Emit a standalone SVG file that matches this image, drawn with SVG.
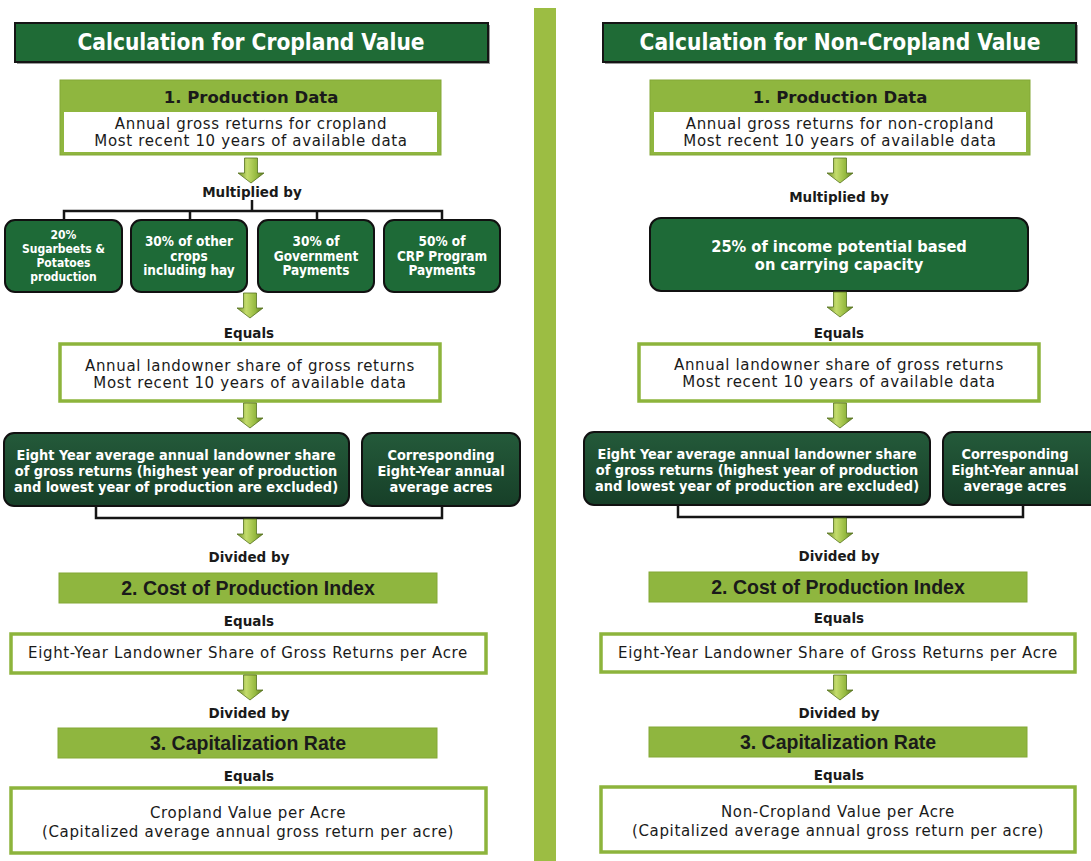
<svg xmlns="http://www.w3.org/2000/svg" width="1091" height="861" viewBox="0 0 1091 861">
<defs>
<linearGradient id="ag" x1="0" y1="0" x2="1" y2="0">
<stop offset="0" stop-color="#6c8c28"/>
<stop offset="0.35" stop-color="#c4dc6c"/>
<stop offset="0.7" stop-color="#96ba40"/>
<stop offset="1" stop-color="#5c7c20"/>
</linearGradient>
<linearGradient id="dg" x1="0" y1="0" x2="0" y2="1">
<stop offset="0" stop-color="#245a3a"/>
<stop offset="1" stop-color="#173f28"/>
</linearGradient>
<path id="arr" d="M-6.5,0 H6.5 V15 H13 L0,25 L-13,15 H-6.5 Z"/>
</defs>
<style>
.hdr{fill:#1f6b36;stroke:#151515;stroke-width:2}
.hsh{fill:#9a9a9a}
.ht{font-family:"DejaVu Sans Condensed","DejaVu Sans",sans-serif;font-weight:bold;font-size:22.5px;fill:#fff;text-anchor:middle}
.lg{fill:#8fb63f;stroke:#83a836;stroke-width:1}
.lt{font-family:"DejaVu Sans",sans-serif;font-weight:bold;font-size:16.5px;fill:#1a1a1a;text-anchor:middle}
.at{font-family:"Liberation Sans",Arial,sans-serif;font-weight:bold;font-size:19.5px;fill:#1a1a1a;text-anchor:middle}
.wb{fill:#fff;stroke:#8db43c;stroke-width:3.5}
.wi{fill:#fff}
.bt{font-family:"DejaVu Sans",sans-serif;font-size:15px;letter-spacing:0.65px;fill:#1a1a1a;text-anchor:middle}
.lab{font-family:"DejaVu Sans",sans-serif;font-weight:bold;font-size:13.5px;fill:#1a1a1a;text-anchor:middle}
.sb{fill:#1e6a37;stroke:#111;stroke-width:2}
.db{fill:url(#dg);stroke:#111;stroke-width:2}
.wt{font-family:"DejaVu Sans Condensed","DejaVu Sans",sans-serif;font-weight:bold;fill:#fff;text-anchor:middle}
.s11{font-size:12px}
.s12{font-size:13.5px}
.s13{font-size:14.4px}
.s15{font-size:16.3px}
.ln{fill:none;stroke:#151515;stroke-width:2.5}
.ar{fill:url(#ag);stroke:#55721f;stroke-width:0.8}
</style>
<rect width="1091" height="861" fill="#fff"/>
<g id="divider"><rect x="534" y="8" width="22" height="853" fill="#9cbd43"/></g>

<g id="left-header"><rect class="hsh" x="17" y="25" width="473" height="39"/><rect class="hdr" x="15" y="23" width="473" height="39"/><text class="ht" x="251" y="50">Calculation for Cropland Value</text></g>
<g id="left-production"><rect class="lg" x="60" y="80" width="381" height="75"/><text class="lt" x="251" y="103">1.  Production Data</text><rect class="wi" x="64" y="112" width="373" height="40"/><text class="bt" x="251" y="129">Annual gross returns for cropland</text><text class="bt" x="251" y="146">Most recent 10 years of available data</text></g>
<g id="left-mult-label"><text class="lab" x="252" y="197">Multiplied by</text></g>
<g id="left-sugar"><rect class="sb" x="5" y="220" width="117" height="72" rx="10"/><text class="wt s11" x="63.5" y="239">20%</text><text class="wt s11" x="63.5" y="253">Sugarbeets &amp;</text><text class="wt s11" x="63.5" y="267">Potatoes</text><text class="wt s11" x="63.5" y="281">production</text></g>
<g id="left-other"><rect class="sb" x="131" y="220" width="116" height="72" rx="10"/><text class="wt s12" x="189" y="246">30% of other</text><text class="wt s12" x="189" y="261">crops</text><text class="wt s12" x="189" y="275">including hay</text></g>
<g id="left-gov"><rect class="sb" x="258" y="220" width="116" height="72" rx="10"/><text class="wt s12" x="316" y="246">30% of</text><text class="wt s12" x="316" y="261">Government</text><text class="wt s12" x="316" y="275">Payments</text></g>
<g id="left-crp"><rect class="sb" x="384" y="220" width="116" height="72" rx="10"/><text class="wt s12" x="442" y="246">50% of</text><text class="wt s12" x="442" y="261">CRP Program</text><text class="wt s12" x="442" y="275">Payments</text></g>
<g id="left-eq1"><text class="lab" x="249" y="338">Equals</text></g>
<g id="left-share"><rect class="wb" x="60" y="344" width="380" height="57"/><text class="bt" x="250" y="371">Annual landowner share of gross returns</text><text class="bt" x="250" y="388">Most recent 10 years of available data</text></g>
<g id="left-eight"><rect class="db" x="4" y="433" width="345" height="73" rx="10"/><text class="wt s13" x="176" y="460">Eight Year average annual landowner share</text><text class="wt s13" x="176" y="476">of gross returns (highest year of production</text><text class="wt s13" x="176" y="492">and lowest year of production are excluded)</text></g>
<g id="left-acres"><rect class="db" x="362" y="433" width="158" height="73" rx="10"/><text class="wt s13" x="441" y="460">Corresponding</text><text class="wt s13" x="441" y="476">Eight-Year annual</text><text class="wt s13" x="441" y="492">average acres</text></g>
<g id="left-div1"><text class="lab" x="249" y="562">Divided by</text></g>
<g id="left-cost"><rect class="lg" x="59" y="573" width="378" height="30"/><text class="at" x="248" y="595">2.  Cost of Production Index</text></g>
<g id="left-eq2"><text class="lab" x="249" y="626">Equals</text></g>
<g id="left-peracre"><rect class="wb" x="11" y="634" width="475" height="39"/><text class="bt" x="248" y="658">Eight-Year Landowner Share of Gross Returns per Acre</text></g>
<g id="left-div2"><text class="lab" x="249" y="718">Divided by</text></g>
<g id="left-cap"><rect class="lg" x="58" y="728" width="379" height="30"/><text class="at" x="248" y="750">3.  Capitalization Rate</text></g>
<g id="left-eq3"><text class="lab" x="249" y="781">Equals</text></g>
<g id="left-value"><rect class="wb" x="11" y="788" width="475" height="65"/><text class="bt" x="248" y="818">Cropland Value per Acre</text><text class="bt" x="248" y="837">(Capitalized average annual gross return per acre)</text></g>

<g id="right-header"><rect class="hsh" x="605" y="25" width="473" height="39"/><rect class="hdr" x="603" y="23" width="473" height="39"/><text class="ht" x="840" y="50">Calculation for Non-Cropland Value</text></g>
<g id="right-production"><rect class="lg" x="650" y="80" width="380" height="75"/><text class="lt" x="840" y="103">1.  Production Data</text><rect class="wi" x="654" y="112" width="372" height="40"/><text class="bt" x="840" y="129">Annual gross returns for non-cropland</text><text class="bt" x="840" y="146">Most recent 10 years of available data</text></g>
<g id="right-mult-label"><text class="lab" x="839" y="202">Multiplied by</text></g>
<g id="right-income"><rect class="sb" x="650" y="218" width="378" height="73" rx="11"/><text class="wt s15" x="839" y="252">25% of income potential based</text><text class="wt s15" x="839" y="270">on carrying capacity</text></g>
<g id="right-eq1"><text class="lab" x="839" y="338">Equals</text></g>
<g id="right-share"><rect class="wb" x="639" y="344" width="400" height="57"/><text class="bt" x="839" y="370">Annual landowner share of gross returns</text><text class="bt" x="839" y="387">Most recent 10 years of available data</text></g>
<g id="right-eight"><rect class="db" x="584" y="432" width="346" height="73" rx="10"/><text class="wt s13" x="757" y="459">Eight Year average annual landowner share</text><text class="wt s13" x="757" y="475">of gross returns (highest year of production</text><text class="wt s13" x="757" y="491">and lowest year of production are excluded)</text></g>
<g id="right-acres"><rect class="db" x="943" y="432" width="158" height="73" rx="10"/><text class="wt s13" x="1015" y="459">Corresponding</text><text class="wt s13" x="1015" y="475">Eight-Year annual</text><text class="wt s13" x="1015" y="491">average acres</text></g>
<g id="right-div1"><text class="lab" x="839" y="561">Divided by</text></g>
<g id="right-cost"><rect class="lg" x="649" y="572" width="378" height="30"/><text class="at" x="838" y="594">2.  Cost of Production Index</text></g>
<g id="right-eq2"><text class="lab" x="839" y="623">Equals</text></g>
<g id="right-peracre"><rect class="wb" x="601" y="634" width="474" height="38"/><text class="bt" x="838" y="658">Eight-Year Landowner Share of Gross Returns per Acre</text></g>
<g id="right-div2"><text class="lab" x="839" y="718">Divided by</text></g>
<g id="right-cap"><rect class="lg" x="649" y="727" width="378" height="30"/><text class="at" x="838" y="749">3.  Capitalization Rate</text></g>
<g id="right-eq3"><text class="lab" x="839" y="780">Equals</text></g>
<g id="right-value"><rect class="wb" x="601" y="787" width="474" height="65"/><text class="bt" x="838" y="817">Non-Cropland Value per Acre</text><text class="bt" x="838" y="836">(Capitalized average annual gross return per acre)</text></g>

<g id="connectors">
<path class="ln" d="M252,200 V211 M64,220 V211 H442 V220 M190,211 V220 M317,211 V220"/>
<path class="ln" d="M96,506 V518 H442 V506"/>
<path class="ln" d="M678,505 V517 H1023 V505"/>
<use href="#arr" class="ar" x="251" y="158"/>
<use href="#arr" class="ar" x="250" y="293"/>
<use href="#arr" class="ar" x="250" y="403"/>
<use href="#arr" class="ar" x="250" y="519"/>
<use href="#arr" class="ar" x="250" y="675"/>
<use href="#arr" class="ar" x="840" y="158"/>
<use href="#arr" class="ar" x="840" y="292"/>
<use href="#arr" class="ar" x="840" y="403"/>
<use href="#arr" class="ar" x="840" y="518"/>
<use href="#arr" class="ar" x="840" y="675"/>
</g>
</svg>
